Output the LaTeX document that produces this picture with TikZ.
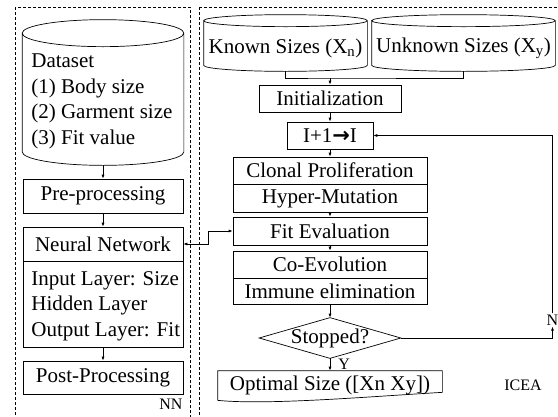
\documentclass[tikz,border=0pt]{standalone}
\usepackage{fontspec}
\setmainfont{Liberation Serif}
\newfontfamily\symfont{DejaVu Sans}
\usepackage{tikz}
\usetikzlibrary{
  arrows.meta,
  positioning,
  calc
}
\newcommand{\fcBox}[5]{\node[box, minimum width=#4, minimum height=#5] (#1) at (#2) {#3};}
\newcommand{\fcCyl}[2]{%
  \draw let \p1=(#1.north west), \p2=(#1.south east), \n1={(\x2-\x1)/2} in
    (\x1,{\y1-#2}) -- (\x1,{\y2+#2})
    arc[start angle=180, end angle=360, x radius=\n1, y radius=#2]
    -- (\x2,{\y1-#2})
    arc[start angle=0, end angle=360, x radius=\n1, y radius=#2];
}
\tikzset{
  box/.style={draw, rectangle, inner sep=0pt},
  hold/.style={rectangle, inner sep=0pt},
  txt/.style={align=left, inner sep=0pt},
  tag/.style={inner sep=1pt, font=\fontsize{16}{18}\selectfont},
  frame/.style={draw, dash pattern=on 3pt off 2pt, line width=0.6pt}
}

\begin{document}
\begin{tikzpicture}[
    x=1pt, y=1pt,
    >={Latex[length=4pt,width=3pt]},
    line width=0.7pt,
    font=\fontsize{21}{25.5}\selectfont
  ]
  \useasboundingbox (0,0) rectangle (558,-416);
  \clip (0,0) rectangle (558,-416);

  % NN part
  \draw[frame] (15,-7) rectangle (190,-430);
  \node[hold, minimum width=161pt, minimum height=145pt] (data) at (103,-92.5) {};
  \fcCyl{data}{13.5pt}
  \node[txt, anchor=west] (dataTxt) at (31,-101.5)
    {Dataset\\(1) Body size\\(2) Garment size\\(3) Fit value};
  \fcBox{pre}{103,-196}{Pre-processing}{160pt}{34pt}
  \fcBox{nn}{103,-244}{Neural Network}{160pt}{34pt}
  \node[box, below=0pt of nn, minimum width=160pt, minimum height=86pt] (layers) {};
  \node[txt, anchor=west] (layerTxt) at (31,-306)
    {Input Layer: Size\\Hidden Layer\\Output Layer: Fit};
  \fcBox{post}{103,-377.5}{Post-Processing}{160pt}{33pt}
  \node[tag] (nnTag) at (171,-404) {NN};

  % ICEA part
  \draw[frame] (199,-7) rectangle (570,-430);
  \node[hold, minimum width=163pt, minimum height=56pt] (known) at (285.5,-43) {};
  \fcCyl{known}{6pt}
  \node[hold] (knownTxt) at (285.5,-48) {Known Sizes (X\textsubscript{n})};
  \node[hold, minimum width=183pt, minimum height=56pt] (unknown) at (463.5,-43) {};
  \fcCyl{unknown}{6pt}
  \node[hold] (unknownTxt) at (463.5,-48) {Unknown Sizes (X\textsubscript{y})};
  \coordinate (join) at (330,-78);

  \fcBox{init}{330,-98.5}{Initialization}{142pt}{27pt}
  \fcBox{iter}{330,-135.5}{I+1{\symfont\bfseries →}I}{86pt}{27pt}
  \fcBox{clonal}{330,-170.5}{Clonal Proliferation}{194pt}{27pt}
  \node[box, below=0pt of clonal, minimum width=194pt, minimum height=28pt] (hyper) {Hyper-Mutation};
  \fcBox{fit}{330,-231}{Fit Evaluation}{194pt}{28pt}
  \fcBox{coevo}{330,-264.5}{Co-Evolution}{194pt}{27pt}
  \node[box, below=0pt of coevo, minimum width=194pt, minimum height=26pt] (immune) {Immune elimination};

  \node[hold, minimum width=141pt, minimum height=40pt] (stop) at (330,-338) {Stopped?};
  \draw (stop.west) -- (stop.north) -- (stop.east) -- (stop.south) -- cycle;

  \node[hold, minimum width=224pt, minimum height=29pt] (opt) at (330,-385.5) {Optimal Size ([Xn Xy])};
  \draw (opt.south west) -- (opt.north west) -- (opt.north east) -- ([yshift=8pt]opt.south east)
    .. controls +(-70,-4) and +(50,-5) .. (opt.south west);
  \node[tag] (icea) at (523,-385) {ICEA};
  \node[tag] (no) at (552.5,-320) {N};

  % connectors
  \draw (known.south) |- (join) -| (unknown.south);
  \path[->]
  (data.south)   edge (pre.north)
  (pre)          edge (nn)
  (layers)       edge (post)
  (join)         edge (init.north)
  (init)         edge (iter)
  (iter)         edge (clonal)
  (hyper)        edge (fit)
  (fit)          edge (coevo)
  (immune)       edge (stop.north)
  (stop.south)   edge node[tag, right=7pt] {Y} (opt.north)
  ;
  \draw[<->] (nn.east) -- ++(25,0) |- (fit.west);
  \draw[->] (stop.east) -| (no.south);
  \draw[->] (no.north) |- (iter.east);
\end{tikzpicture}
\end{document}
